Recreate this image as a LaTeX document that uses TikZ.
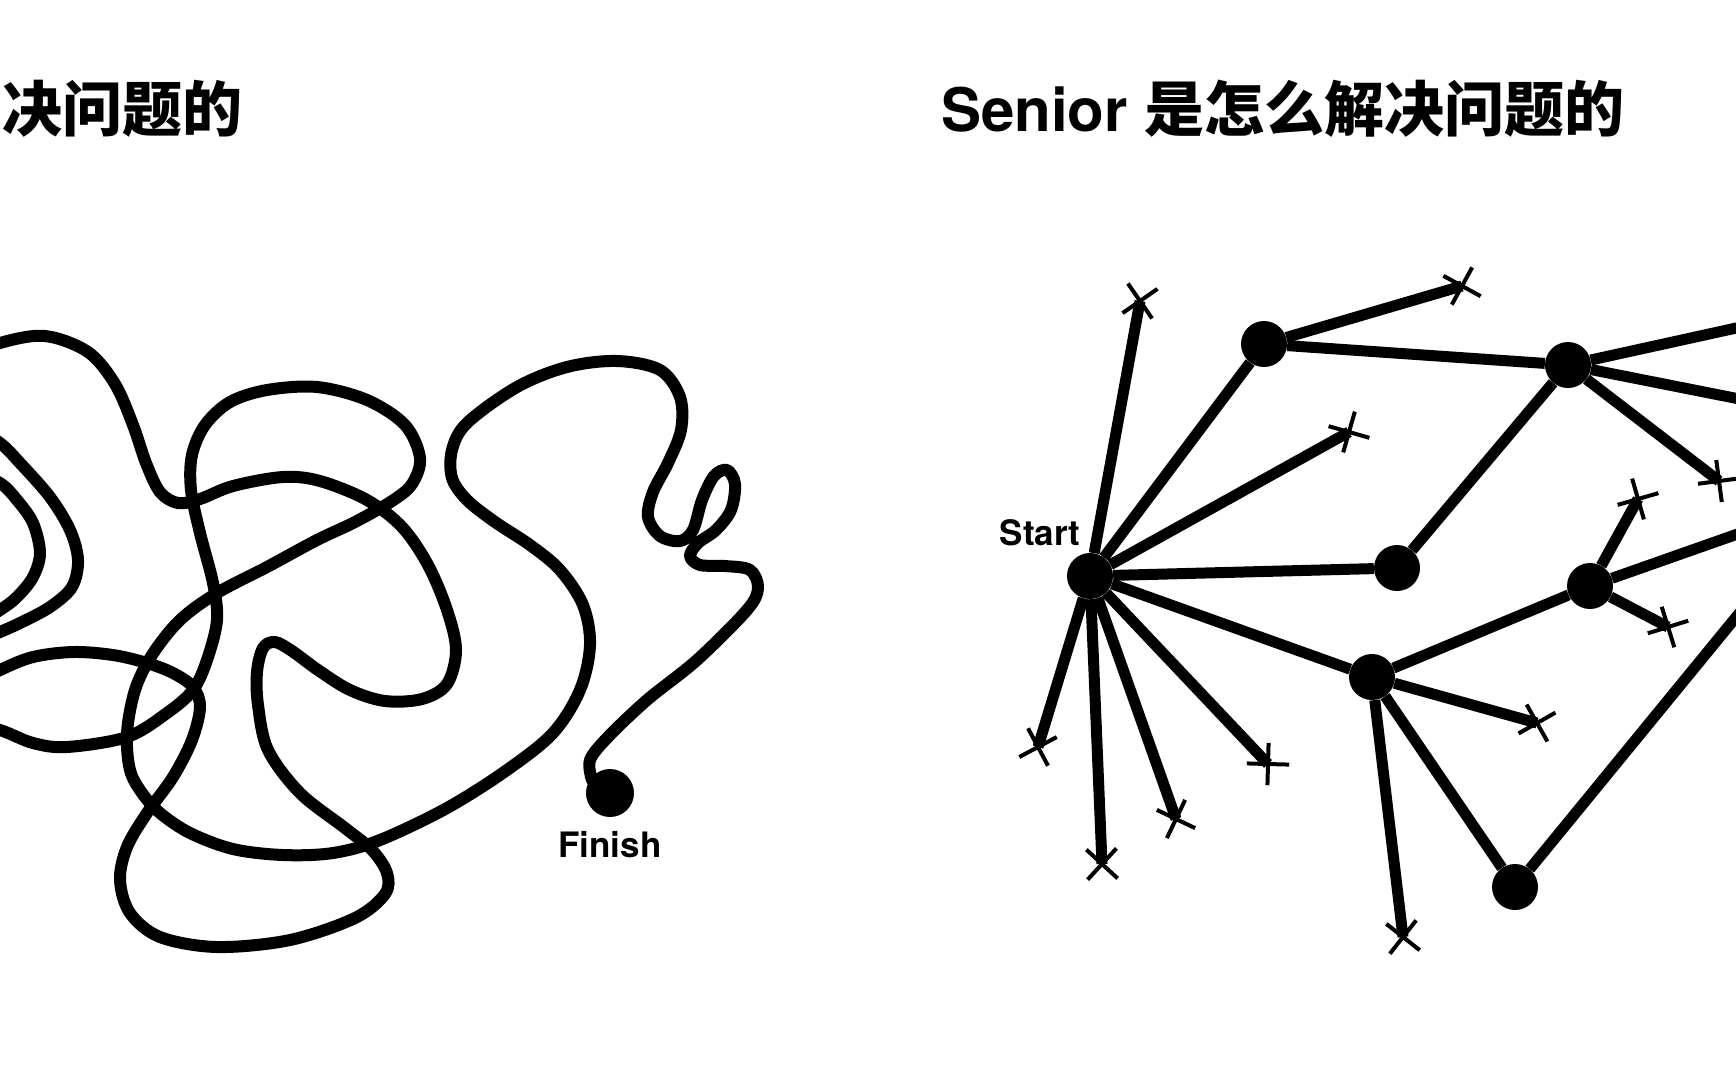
\documentclass[tikz,border=0pt]{standalone}
\usepackage{fontspec}
\setmainfont{TeX Gyre Heros}
\newfontfamily\cjkbf{Noto Sans CJK SC Bold}
\usetikzlibrary{calc,positioning,shapes.misc}

\begin{document}
\begin{tikzpicture}[
  x=1pt,y=-1pt,
  dot/.style={circle,fill=black,inner sep=0pt,minimum size=46pt},
  edge/.style={line width=11pt},
  endx/.style={draw,cross out,line width=4pt,inner sep=0pt,minimum size=26pt},
  lbl/.style={font=\fontsize{35}{40}\selectfont\bfseries,inner sep=0pt},
  title/.style={font=\fontsize{60}{70}\selectfont\bfseries,inner sep=0pt},
  tangle/.style={line width=12pt,line cap=round,line join=round}
]
\useasboundingbox (0,0) rectangle (1736,1072);
\clip (0,0) rectangle (1736,1072);
\fill[white] (0,0) rectangle (1736,1072);

% titles
\node[title,anchor=base west] (jtitle) at (2,131) {\cjkbf 决问题的};
\node[title,anchor=base west] (stitle) at (941,131) {Senior {\cjkbf 是怎么解决问题的}};

% left: one long tangled line
\draw[tangle] plot[smooth,tension=0.55] coordinates {
  (-40,360) (0,343) (45,336) (88,352) (115,384) (133,425) (146,463) (160,492)
  (178,503) (200,499) (233,486) (283,477) (320,481) (367,500) (402,527)
  (428,565) (447,610) (456,650) (447,684) (422,699) (385,701) (350,690)
  (318,670) (292,651) (275,642) (263,648) (257,672) (258,705) (268,750)
  (300,793) (345,828) (372,850) (387,873) (385,894) (355,918) (290,940)
  (217,947) (160,937) (130,913) (120,880) (127,847) (147,813) (173,777)
  (192,740) (200,707) (193,687) (173,673) (147,663) (113,655) (73,652)
  (33,657) (0,670) (-40,690)};
\draw[tangle] plot[smooth,tension=0.55] coordinates {
  (-30,470) (0,483) (17,500) (33,523) (40,553) (33,577) (17,597) (0,610) (-30,628)};
\draw[tangle] plot[smooth,tension=0.55] coordinates {
  (-30,425) (0,443) (20,463) (50,497) (70,530) (78,560) (72,587) (50,607)
  (20,623) (0,632) (-30,645)};
\draw[tangle] plot[smooth,tension=0.55] coordinates {
  (-40,720) (0,730) (33,743) (67,747) (127,737) (167,713) (193,690) (207,660)
  (217,620) (213,583) (200,533) (191,490) (192,455) (205,425) (230,402)
  (267,390) (317,387) (367,400) (405,425) (420,458) (412,484) (392,501)
  (355,522) (317,540) (267,567) (217,593) (180,620) (152,655) (135,690)
  (127,733) (130,770) (142,793) (160,813) (190,833) (233,849) (283,855)
  (333,853) (380,840) (447,808) (507,770) (553,733) (580,690) (590,645)
  (583,605) (560,570) (530,545) (495,522) (467,500) (452,478) (452,450)
  (467,423) (517,387) (567,367) (617,361) (660,370) (680,397) (681,430)
  (668,463) (653,492) (648,517) (660,536) (680,541) (693,530) (702,500)
  (714,476) (727,470) (735,484) (731,510) (716,530) (698,543) (690,556)
  (700,565) (725,566) (750,570) (758,588) (747,610) (697,660) (647,700)
  (608,737) (590,760) (592,780)};
\node[dot,minimum size=48pt] (fin) at (610,793) {};
\node[lbl,anchor=base] at ($(fin)+(0,64)$) {Finish};

% right: start fans out, dead ends get a cross
\node[dot] (s) at (1090,576) {};
\node[dot] (a) at (1264,344) {};
\node[dot] (b) at (1568,365) {};
\node[dot] (c) at (1397,568) {};
\node[dot] (d) at (1590,586) {};
\node[dot] (e) at (1372,677) {};
\node[dot] (f) at (1515,887) {};
\node[lbl,anchor=base] at ($(s)+(-50,-31)$) {Start};

\coordinate (x1) at (1140,301);
\coordinate (x2) at (1349,432);
\coordinate (x3) at (1038,747);
\coordinate (x4) at (1102,864);
\coordinate (x5) at (1176,819);
\coordinate (x6) at (1268,764);
\coordinate (x7) at (1462,286);
\coordinate (x8) at (1719,481);
\coordinate (x9) at (1537,723);
\coordinate (x10) at (1403,937);
\coordinate (x11) at (1638,499);
\coordinate (x12) at (1668,627);
\coordinate (o1) at (1800,314);
\coordinate (o2) at (1800,411);
\coordinate (o3) at (1800,512);
\coordinate (o4) at (1800,539);

\draw[edge] (s) -- (a);
\draw[edge] (s) -- (c);
\draw[edge] (s) -- (e);
\draw[edge] (a) -- (b);
\draw[edge] (b) -- (c);
\draw[edge] (e) -- (d);
\draw[edge] (e) -- (f);
\draw[edge] (b) -- (o1);
\draw[edge] (b) -- (o2);
\draw[edge] (d) -- (o3);
\draw[edge] (f) -- (o4);

\draw[edge] (s) -- (x1) node[endx,sloped,pos=1] {};
\draw[edge] (s) -- (x2) node[endx,sloped,pos=1] {};
\draw[edge] (s) -- (x3) node[endx,sloped,pos=1] {};
\draw[edge] (s) -- (x4) node[endx,sloped,pos=1] {};
\draw[edge] (s) -- (x5) node[endx,sloped,pos=1] {};
\draw[edge] (s) -- (x6) node[endx,sloped,pos=1] {};
\draw[edge] (a) -- (x7) node[endx,sloped,pos=1] {};
\draw[edge] (b) -- (x8) node[endx,sloped,pos=1] {};
\draw[edge] (e) -- (x9) node[endx,sloped,pos=1] {};
\draw[edge] (e) -- (x10) node[endx,sloped,pos=1] {};
\draw[edge] (d) -- (x11) node[endx,sloped,pos=1] {};
\draw[edge] (d) -- (x12) node[endx,sloped,pos=1] {};
\end{tikzpicture}
\end{document}
